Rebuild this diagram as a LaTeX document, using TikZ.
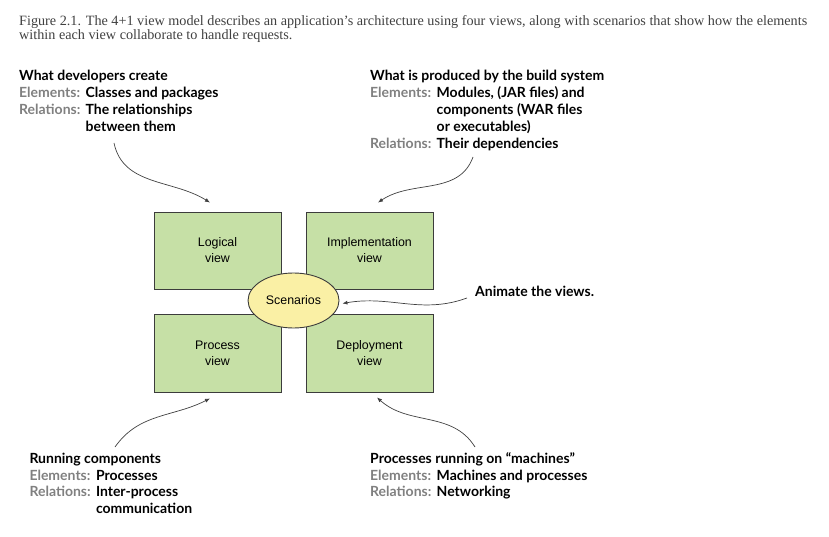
\documentclass[tikz,border=0pt]{standalone}
\usepackage{fontspec}
\setmainfont{Liberation Serif}
\newfontfamily\boxfont{Liberation Sans}
\newfontfamily\notefont{Lato}
\usetikzlibrary{shapes.geometric,arrows.meta}
\definecolor{viewgreen}{HTML}{C6E0A6}
\definecolor{scenyellow}{HTML}{FAF0A5}
\definecolor{edgegray}{HTML}{3C3C3C}
\definecolor{labelgray}{HTML}{808080}
\definecolor{captiongray}{HTML}{404040}
\newcommand{\lbl}[1]{\makebox[66.5pt][l]{\color{labelgray}#1}}
\begin{document}
\begin{tikzpicture}[x=1pt,y=1pt,
    view/.style={draw=edgegray,fill=viewgreen,line width=0.9pt,minimum width=127pt,
      minimum height=77pt,align=center,font=\boxfont\fontsize{12.4}{16}\selectfont},
    note/.style={anchor=base west,inner sep=0pt,font=\notefont\bfseries\fontsize{14}{16.8}\selectfont},
    hint/.style={-{Latex[length=5pt,width=4pt]},draw=gray!50!black,line width=0.7pt}]
    \useasboundingbox (0,0) rectangle (829,536);

    % caption
    \node[anchor=base west,inner sep=0pt,text=captiongray,font=\fontsize{14.2}{14}\selectfont] (caption) at (19,510.5)
        {\begin{tabular}[t]{@{}l@{}}Figure 2.1. The 4+1 view model describes an application’s architecture using four views, along with scenarios that show how the elements\\
        within each view collaborate to handle requests.\end{tabular}};

    % the four views
    \node[view] (logical) at (217.5,285.5) {Logical\\view};
    \node[view] (impl) at (369.5,285.5) {Implementation\\view};
    \node[view,minimum height=78pt] (process) at (217.5,183) {Process\\view};
    \node[view,minimum height=78pt] (deploy) at (369.5,183) {Deployment\\view};
    \node[ellipse,draw=edgegray,fill=scenyellow,line width=0.9pt,minimum width=91pt,minimum height=55pt,
        font=\boxfont\fontsize{12.4}{16}\selectfont] (scen) at (293.5,235.5) {Scenarios};

    % notes
    \node[note,font=\notefont\bfseries\fontsize{14}{17}\selectfont] (devnote) at (19,455.5)
        {\begin{tabular}[t]{@{}l@{}}What developers create\\ \lbl{Elements:}Classes and packages\\
        \lbl{Relations:}The relationships\\ \lbl{}between them\end{tabular}};
    \node[note,font=\notefont\bfseries\fontsize{14}{17}\selectfont] (buildnote) at (370,455.3)
        {\begin{tabular}[t]{@{}l@{}}What is produced by the build system\\ \lbl{Elements:}Modules, (JAR files) and\\
        \lbl{}components (WAR files\\ \lbl{}or executables)\\ \lbl{Relations:}Their dependencies\end{tabular}};
    \node[note] (runnote) at (29.3,72.7)
        {\begin{tabular}[t]{@{}l@{}}Running components\\ \lbl{Elements:}Processes\\
        \lbl{Relations:}Inter-process\\ \lbl{}communication\end{tabular}};
    \node[note] (machnote) at (370,72.7)
        {\begin{tabular}[t]{@{}l@{}}Processes running on “machines”\\ \lbl{Elements:}Machines and processes\\
        \lbl{Relations:}Networking\end{tabular}};
    \node[note] (animnote) at (475,239.3) {Animate the views.};

    % arrows
    \coordinate (devtail) at (114,393);
    \draw[hint] (devtail) to[out=-78,in=148] ([xshift=-7.5pt,yshift=9pt]logical.north);
    \coordinate (buildtail) at (473,379);
    \draw[hint] (buildtail) to[out=-110,in=34] ([xshift=8.5pt,yshift=9pt]impl.north);
    \coordinate (runtail) at (115,89);
    \draw[hint] (runtail) to[out=55,in=207] ([xshift=-7.5pt,yshift=-6pt]process.south);
    \coordinate (machtail) at (475,89);
    \draw[hint] (machtail) to[out=122,in=-42] ([xshift=7.5pt,yshift=-5pt]deploy.south);
    \coordinate (animtail) at (467,238);
    \draw[hint] (animtail) to[out=200,in=10] ([xshift=3pt,yshift=-3pt]scen.east);
\end{tikzpicture}
\end{document}
